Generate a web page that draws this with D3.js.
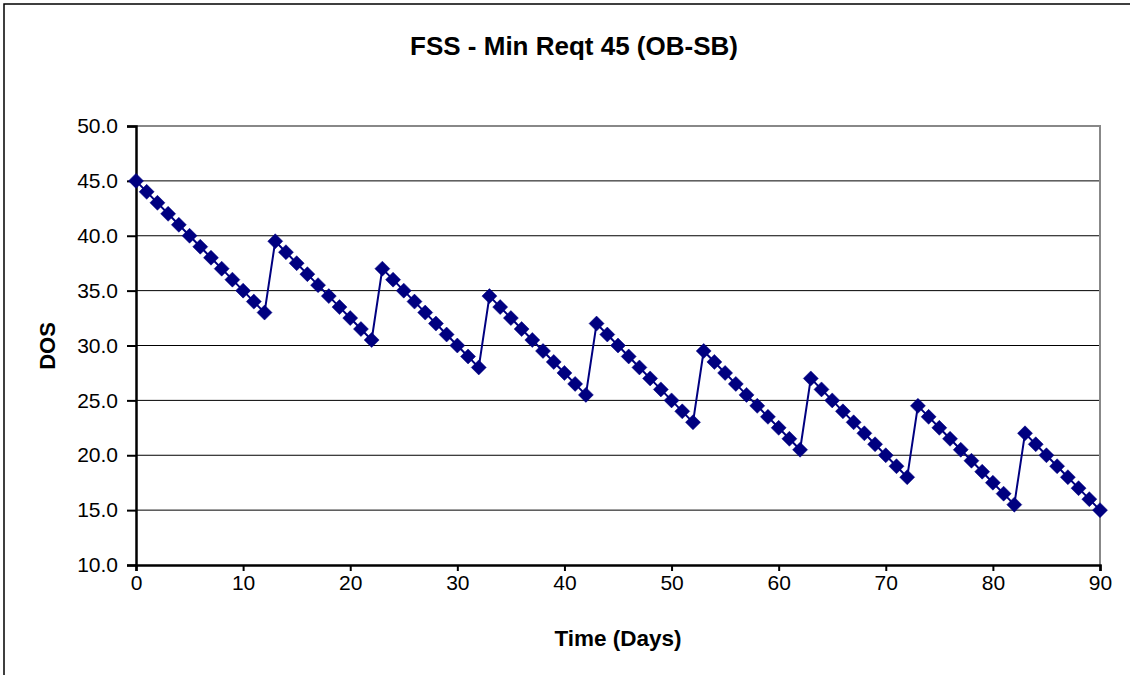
<!DOCTYPE html>
<html>
<head>
<meta charset="utf-8">
<script src="https://cdn.jsdelivr.net/npm/d3@7"></script>
<style>
  html, body { margin: 0; padding: 0; background: #fff; }
  svg { display: block; }
  text { font-family: "Liberation Sans", Arial, sans-serif; }
</style>
</head>
<body>
<svg id="chart" width="1130" height="675"></svg>
<script>
const title = "FSS - Min Reqt 45 (OB-SB)";
const xTitle = "Time (Days)";
const yTitle = "DOS";
const days = [0,1,2,3,4,5,6,7,8,9,10,11,12,13,14,15,16,17,18,19,20,21,22,23,24,25,26,27,28,29,30,
  31,32,33,34,35,36,37,38,39,40,41,42,43,44,45,46,47,48,49,50,51,52,53,54,55,56,57,58,59,60,
  61,62,63,64,65,66,67,68,69,70,71,72,73,74,75,76,77,78,79,80,81,82,83,84,85,86,87,88,89,90];
const dos = [45,44,43,42,41,40,39,38,37,36,35,34,33,
  39.5,38.5,37.5,36.5,35.5,34.5,33.5,32.5,31.5,30.5,
  37,36,35,34,33,32,31,30,29,28,
  34.5,33.5,32.5,31.5,30.5,29.5,28.5,27.5,26.5,25.5,
  32,31,30,29,28,27,26,25,24,23,
  29.5,28.5,27.5,26.5,25.5,24.5,23.5,22.5,21.5,20.5,
  27,26,25,24,23,22,21,20,19,18,
  24.5,23.5,22.5,21.5,20.5,19.5,18.5,17.5,16.5,15.5,
  22,21,20,19,18,17,16,15];
const xTicks = [0,10,20,30,40,50,60,70,80,90];
const yTicks = [10,15,20,25,30,35,40,45,50];

const svg = d3.select("#chart");
const L = 136, R = 1100, T = 126, B = 565;
const x = d3.scaleLinear().domain([0, 90]).range([L, R]);
const y = d3.scaleLinear().domain([10, 50]).range([B, T]);
const navy = "#000080";
const ff = "'Liberation Sans', Arial, sans-serif";

// outer chart border (cropped at right/bottom)
svg.append("rect").attr("x", 4).attr("y", 4).attr("width", 1140).attr("height", 690)
  .attr("fill", "none").attr("stroke", "#000").attr("stroke-width", 1.5);

// gridlines
svg.append("g").selectAll("line").data(yTicks.filter(d => d > 10 && d < 50)).join("line")
  .attr("x1", L).attr("x2", R).attr("y1", d => y(d)).attr("y2", d => y(d))
  .attr("stroke", "#000").attr("stroke-width", 1);

// plot area border (top & right gray)
svg.append("path").attr("d", `M${L},${y(50)}H${R}V${B}`)
  .attr("fill", "none").attr("stroke", "#888").attr("stroke-width", 2);

// axes
const yAxis = d3.axisLeft(y).tickValues(yTicks).tickFormat(d3.format(".1f")).tickSize(9).tickPadding(9);
const gy = svg.append("g").attr("transform", `translate(${L},0)`).call(yAxis);
gy.select(".domain").attr("stroke", "#000").attr("stroke-width", 2.5);
gy.selectAll(".tick line").attr("stroke", "#000").attr("stroke-width", 2);
gy.selectAll(".tick text").attr("font-size", 21).attr("fill", "#000").style("font-family", ff);

const xAxis = d3.axisBottom(x).tickValues(xTicks).tickSize(6).tickPadding(4);
const gx = svg.append("g").attr("transform", `translate(0,${B})`).call(xAxis);
gx.select(".domain").attr("stroke", "#000").attr("stroke-width", 2.5);
gx.selectAll(".tick line").attr("stroke", "#000").attr("stroke-width", 2);
gx.selectAll(".tick text").attr("font-size", 21).attr("fill", "#000").style("font-family", ff);

// series line
const pts = days.map((d, i) => [d, dos[i]]);
svg.append("path").datum(pts)
  .attr("d", d3.line().x(d => x(d[0])).y(d => y(d[1])))
  .attr("fill", "none").attr("stroke", navy).attr("stroke-width", 2);

// diamond markers
svg.append("g").selectAll("path").data(pts).join("path")
  .attr("transform", d => `translate(${x(d[0])},${y(d[1])})`)
  .attr("d", "M0,-7.5L7.5,0L0,7.5L-7.5,0Z")
  .attr("fill", navy).attr("stroke", navy).attr("stroke-width", 0.5);

// titles
svg.append("text").attr("x", 574).attr("y", 55).attr("text-anchor", "middle")
  .attr("font-size", 26).attr("font-weight", "bold").text(title);
svg.append("text").attr("x", 618).attr("y", 646).attr("text-anchor", "middle")
  .attr("font-size", 22.5).attr("font-weight", "bold").text(xTitle);
svg.append("text").attr("transform", "translate(55,346) rotate(-90)").attr("text-anchor", "middle")
  .attr("font-size", 22).attr("font-weight", "bold").text(yTitle);
</script>
</body>
</html>
